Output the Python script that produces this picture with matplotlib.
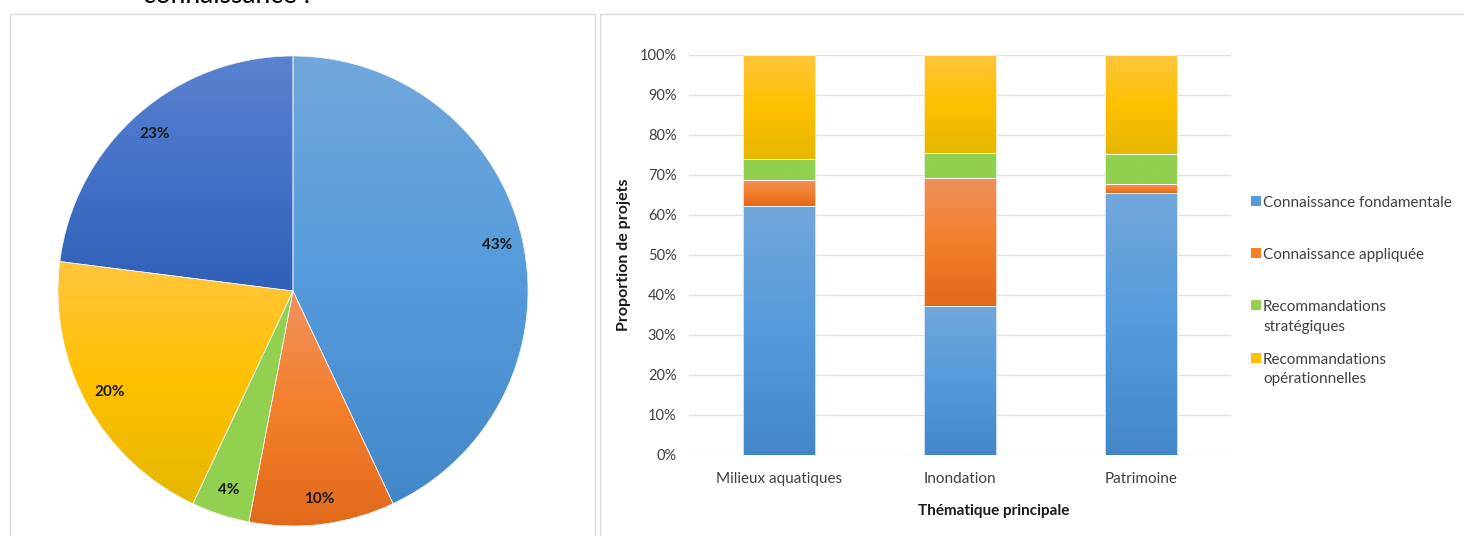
import numpy as np
import matplotlib
matplotlib.use('Agg')
import matplotlib.pyplot as plt
from matplotlib.colors import LinearSegmentedColormap
from matplotlib.patches import Rectangle

plt.rcParams['font.family'] = ['Lato', 'DejaVu Sans']

# --- données ---------------------------------------------------------------
pie_values = [43, 10, 4, 20, 23]

themes = ['Milieux aquatiques', 'Inondation', 'Patrimoine']
fondamentale = [62.3, 37.3, 65.6]
appliquee = [6.4, 32.0, 2.2]
strategiques = [5.2, 6.2, 7.5]
operationnelles = [26.1, 24.5, 24.7]
series_names = ['Connaissance fondamentale', 'Connaissance appliquée',
                'Recommandations\nstratégiques', 'Recommandations\nopérationnelles']
yticks = [0, 10, 20, 30, 40, 50, 60, 70, 80, 90, 100]

# dégradés (bas, milieu, haut) façon Excel
blue = ['#4387c8', '#559bdc', '#72a7db']
orange = ['#e0691b', '#f47f2b', '#ef915c']
green = ['#92d050', '#92d050', '#92d050']
yellow = ['#e6b700', '#ffc000', '#ffc63d']
dark_blue = ['#2f5fb7', '#4371c7', '#5a82cf']

W, H = 1464, 536
fig = plt.figure(figsize=(W / 100, H / 100), dpi=100)


def grad_fill(ax, patch, colors, x0, x1, y0, y1, z=2):
    cmap = LinearSegmentedColormap.from_list('g', colors)
    grad = np.linspace(0, 1, 256)[:, None]
    im = ax.imshow(grad, cmap=cmap, extent=[x0, x1, y0, y1], origin='lower',
                   aspect='auto', zorder=z, interpolation='bilinear')
    im.set_clip_path(patch)
    return im


# cadres
fig.patches.append(Rectangle((10 / W, -0.1), 585 / W, 1.1 - 14 / H, transform=fig.transFigure,
                             fill=False, ec='#d9d9d9', lw=1))
fig.patches.append(Rectangle((600 / W, -0.1), 0.7, 1.1 - 14 / H, transform=fig.transFigure,
                             fill=False, ec='#d9d9d9', lw=1))
fig.text(143 / W, 1 - 3 / H, 'connaissance :', fontsize=19, va='baseline', ha='left', color='black')

# --- camembert ---------------------------------------------------------------
axp = fig.add_axes([58 / W, (536 - 526) / H, 470 / W, 470 / H])
wedges, _, autotexts = axp.pie(pie_values, startangle=90, counterclock=False,
                               autopct=lambda p: f'{p:.0f}%', pctdistance=0.89,
                               wedgeprops=dict(lw=0.5, ec='#f4f4f4'))
for w, cols in zip(wedges, [blue, orange, green, yellow, dark_blue]):
    w.set_facecolor('none')
    v = w.get_path().vertices
    grad_fill(axp, w, cols, v[:, 0].min(), v[:, 0].max(), v[:, 1].min(), v[:, 1].max(), z=0.5)
for t in autotexts:
    t.set_fontsize(11)
    t.set_fontweight('bold')
    t.set_color('#1a1a1a')
axp.set_xlim(-1, 1)
axp.set_ylim(-1, 1)
axp.set_aspect('equal')
axp.axis('off')

# --- barres empilées ---------------------------------------------------------
ax = fig.add_axes([689 / W, (536 - 455) / H, 542 / W, 400 / H])
x = np.arange(len(themes))
bottom = np.zeros(len(themes))
for vals, cols in zip([fondamentale, appliquee, strategiques, operationnelles],
                      [blue, orange, green, yellow]):
    bars = ax.bar(x, vals, bottom=bottom, width=0.4, fc='none', ec='#ffffff',
                  lw=0.5, zorder=3)
    for b in bars:
        bx, by = b.get_x(), b.get_y()
        grad_fill(ax, b, cols, bx, bx + b.get_width(), by, by + b.get_height(), z=2)
    bottom += np.array(vals)

ax.set_xlim(-0.5, 2.5)
ax.set_ylim(0, 100)
ax.set_yticks(yticks)
ax.set_yticklabels([f'{t}%' for t in yticks])
ax.set_xticks(x)
ax.set_xticklabels(themes)
ax.tick_params(length=0, labelcolor='#404040')
ax.tick_params(axis='y', pad=9, labelsize=10.5)
ax.tick_params(axis='x', pad=12, labelsize=11)
ax.grid(axis='y', color='#e0e0e0', lw=1)
ax.set_axisbelow(True)
for s in ax.spines.values():
    s.set_visible(False)
ax.set_ylabel('Proportion de projets', fontsize=11.5, fontweight='bold', color='#1a1a1a')
ax.yaxis.set_label_coords(-0.107, 0.5)
ax.text(0.563, -0.14, 'Thématique principale', transform=ax.transAxes, ha='center',
        va='center', fontsize=11, fontweight='bold', color='#1a1a1a')

# légende
leg_y = [201, 253, 305, 358]
for name, cols, yy in zip(series_names, [blue, orange, green, yellow], leg_y):
    fig.patches.append(Rectangle((1251 / W, 1 - (yy + 5) / H), 10 / W, 10 / H,
                                 transform=fig.transFigure, fc=cols[1], ec='none'))
    fig.text(1263 / W, 1 - (yy - 5) / H, name, fontsize=11, color='#404040', va='top',
             ha='left', linespacing=1.5, transform=fig.transFigure)

fig.savefig('out.png', dpi=100)
